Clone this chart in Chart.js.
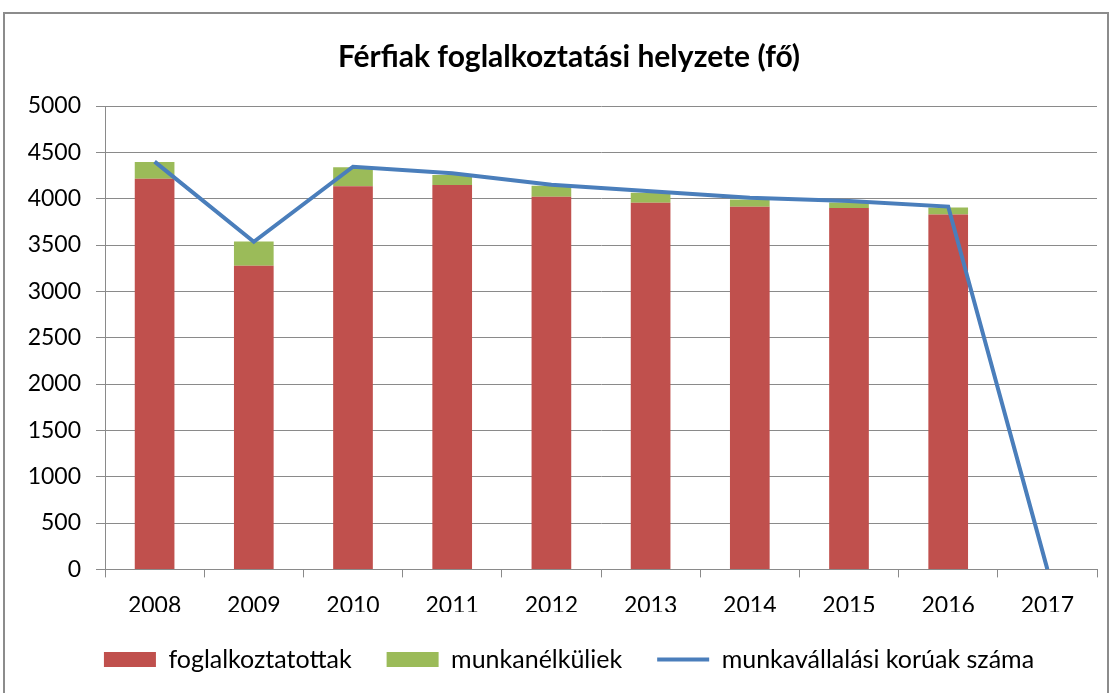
<!DOCTYPE html>
<html>
<head>
<meta charset="utf-8">
<script src="https://cdn.jsdelivr.net/npm/chart.js@4/dist/chart.umd.min.js"></script>
<style>
  html, body { margin: 0; padding: 0; background: #fff; overflow: hidden; }
  #wrap { position: relative; width: 1114px; height: 693px; overflow: hidden; }
  #frame { position: absolute; left: 3px; top: 12px; width: 1106px; height: 700px; border: 2px solid #8c8c8c; box-sizing: border-box; pointer-events: none; }
  canvas { position: absolute; left: 0; top: 0; }
</style>
</head>
<body>
<div id="wrap">
  <canvas id="chart" width="1128" height="693"></canvas>
  <div id="frame"></div>
</div>
<script>
  const years = ["2008", "2009", "2010", "2011", "2012", "2013", "2014", "2015", "2016", "2017"];
  const employed = [4215, 3275, 4133, 4147, 4020, 3956, 3913, 3899, 3830, null];
  const unemployed = [180, 264, 205, 108, 119, 108, 79, 61, 76, null];
  const workingAge = [4400, 3535, 4345, 4275, 4150, 4080, 4010, 3975, 3915, 0];

  const FONT = "Lato, 'Open Sans', sans-serif";
  const GRID = "#8a8a8a";

  new Chart(document.getElementById("chart"), {
    type: "bar",
    data: {
      labels: years,
      datasets: [
        {
          label: "foglalkoztatottak",
          data: employed,
          backgroundColor: "#c0504d",
          pointStyle: "rect",
          order: 1,
        },
        {
          label: "munkanélküliek",
          data: unemployed,
          backgroundColor: "#9bbb59",
          pointStyle: "rect",
          order: 1,
        },
        {
          type: "line",
          label: "munkavállalási korúak száma",
          data: workingAge,
          borderColor: "#4a7ebb",
          backgroundColor: "#4a7ebb",
          borderWidth: 4,
          pointRadius: 0,
          pointStyle: "line",
          tension: 0,
          stack: "line",
          order: 0,
        },
      ],
    },
    options: {
      responsive: false,
      animation: false,
      datasets: {
        bar: { categoryPercentage: 1, barPercentage: 0.4 },
      },
      // the empty right-hand axis only balances the title and legend centring
      layout: { padding: { left: 10, right: 0, top: 30, bottom: 11 } },
      plugins: {
        title: {
          display: true,
          text: "Férfiak foglalkoztatási helyzete (fő)",
          color: "#000",
          font: { family: FONT, size: 30, weight: "bold" },
          padding: { top: 9, bottom: 31 },
        },
        legend: {
          position: "bottom",
          labels: {
            usePointStyle: true,
            pointStyleWidth: 52,
            boxHeight: 15,
            padding: 35,
            color: "#000",
            font: { family: FONT, size: 25 },
            sort: (a, b) => a.datasetIndex - b.datasetIndex,
          },
        },
        tooltip: { enabled: false },
      },
      scales: {
        x: {
          stacked: true,
          afterFit: (scale) => { scale.height -= 21; },
          grid: { display: true, drawOnChartArea: false, color: GRID, tickLength: 8, offset: true },
          border: { color: GRID },
          ticks: { color: "#000", font: { family: FONT, size: 23 }, padding: 14 },
        },
        y: {
          stacked: true,
          min: 0,
          max: 5000,
          afterFit: (scale) => { scale.width = 95; },
          grid: { color: GRID, tickLength: 9 },
          border: { color: GRID },
          ticks: {
            stepSize: 500,
            color: "#000",
            font: { family: FONT, size: 23 },
            padding: 15,
            callback: (v) => String(v),
          },
        },
        yRight: {
          position: "right",
          min: 0,
          max: 1,
          afterFit: (scale) => { scale.width = 31; },
          grid: { display: false },
          border: { display: false },
          ticks: { display: false },
        },
      },
    },
  });
</script>
</body>
</html>
